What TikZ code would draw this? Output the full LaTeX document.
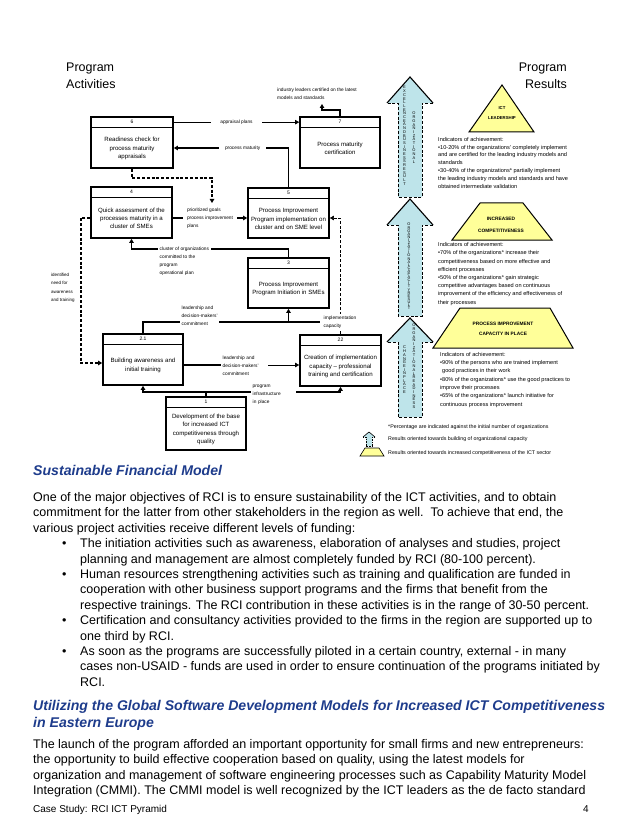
\documentclass[tikz,border=0pt]{standalone}
\usepackage{fontspec}
\setmainfont{Liberation Sans}
\usetikzlibrary{arrows.meta}
\definecolor{abl}{RGB}{190,228,234}
\definecolor{pyl}{RGB}{255,255,153}
\definecolor{hbl}{RGB}{30,60,140}
\makeatletter
\newcommand\vletters[1]{\@tfor\vl@c:=#1\do{\vl@c\\}}
\makeatother
\newcommand\pbox[7]{%
 \node[pbox, minimum width=#4pt, minimum height=#5pt] (#1) at (#2,#3) {};
 \draw[thn] ([yshift=-11.5pt]#1.north west) -- ([yshift=-11.5pt]#1.north east);
 \node[numtxt] (#1n) at ([yshift=-6pt]#1.north) {#6};
 \node[boxtxt] (#1t) at ([yshift=-6pt]#1.center) {#7};}
\newcommand\bigarr[3]{%
 \fill[abl] (410,#1) -- (433,#2) -- (422,#2) -- (422,#3) -- (398,#3) -- (398,#2) -- (387,#2) -- cycle;
 \draw[line width=1.1pt] (387,#2) -- (410,#1) -- (433,#2);
 \draw[line width=0.8pt, dsh] (433,#2) -- (422,#2) -- (422,#3) -- (398,#3) -- (398,#2) -- (387,#2);}
\newcommand\tl[4]{\node[body] (#1) at (#2,#3) {#4};}
\begin{document}
\begin{tikzpicture}[x=1pt,y=-1pt,
 pbox/.style={draw, line width=1.7pt, fill=white, inner sep=0pt},
 numtxt/.style={font=\fontsize{5}{6}\selectfont, inner sep=0pt},
 boxtxt/.style={font=\fontsize{6.1}{8.2}\selectfont, align=center, inner sep=0pt},
 lbl/.style={font=\fontsize{4.8}{8}\selectfont, align=left, inner sep=1.5pt, fill=white},
 thk/.style={line width=1.7pt},
 thn/.style={line width=0.6pt},
 tip/.style={-{Triangle[length=4pt,width=4.5pt]}},
 dsh/.style={dash pattern=on 3pt off 1.8pt},
 vtx/.style={font=\fontsize{4}{3.7}\selectfont, align=center, inner sep=0pt},
 vtxb/.style={font=\fontsize{3.9}{3.1}\selectfont, align=center, inner sep=0pt},
 ptxt/.style={font=\fontsize{4.8}{5}\selectfont\bfseries, inner sep=0pt},
 ind/.style={align=left, inner sep=0pt, anchor=north west},
 leg/.style={font=\fontsize{5.3}{6}\selectfont, inner sep=0pt, anchor=west},
 body/.style={font=\fontsize{12.5}{15}\selectfont, inner sep=0pt, anchor=base west},
 hd/.style={font=\fontsize{14.1}{17}\selectfont\bfseries\itshape, text=hbl, inner sep=0pt, anchor=base west},
 ttl/.style={font=\fontsize{12.5}{16.5}\selectfont, inner sep=0pt}]
\useasboundingbox[fill=white] (0,0) rectangle (638,826);

% titles
\node[ttl, align=left, anchor=north west] (pa) at (66,63) {Program\\Activities};
\node[ttl, align=right, anchor=north east] (pr) at (567,63) {Program\\Results};

% process boxes
\pbox{b6}{132}{142.5}{82}{51}{6}{Readiness check for\\process maturity\\appraisals}
\pbox{b7}{340}{142.5}{80}{51}{7}{Process maturity\\certification}
\pbox{b4}{131.5}{212.5}{81}{51}{4}{Quick assessment of the\\processes maturity in a\\cluster of SMEs}
\pbox{b5}{288.5}{213}{81}{50}{5}{Process Improvement\\Program implementation on\\cluster and on SME level}
\pbox{b3}{288.5}{283}{81}{50}{3}{Process Improvement\\Program Initiation in SMEs}
\pbox{b21}{143}{359.5}{80}{51}{2.1}{Building awareness and\\initial training}
\pbox{b22}{340.5}{360.5}{81}{51}{22}{Creation of implementation\\capacity -- professional\\training and certification}
\pbox{b1}{206}{423.5}{80}{53}{1}{Development of the base\\for increased ICT\\competitiveness through\\quality}

% connectors
\draw[thn, tip] ([yshift=-6pt]b6.north east) -- ([yshift=-6pt]b7.north west)
  node[lbl, pos=0.5, inner xsep=9pt] (l1) {appraisal plans};
\draw[thk, tip] (b5.north) |- ([yshift=-5.5pt]b6.east)
  node[lbl, pos=0.7, inner xsep=6pt] (l2) {process maturity};
\coordinate (c6) at (212,203);
\draw[thk, dsh, tip] (b6.south) |- (212,178) -- (c6);
\draw[thk, tip] ([yshift=-5.5pt]b4.east) -- ([yshift=-5pt]b5.west)
  node[lbl, pos=0.5, inner xsep=4pt] (l4) {prioritized goals\\process improvement\\plans};
\draw[thk, tip] (b3.north) |- ([yshift=-10pt]b4.south) -- (b4.south);
\node[lbl, anchor=north west] (l5) at (158,245.5) {cluster of organizations\\committed to the\\program\\operational plan};
\draw[thk, dsh, tip] ([yshift=-5.5pt]b4.west) -| (81,300) |- ([yshift=-3.5pt]b21.west);
\node[lbl, fill=none, anchor=north west, inner sep=0pt, font=\fontsize{4.5}{8.5}\selectfont] (l6) at (51,273) {identified\\need for\\awareness\\and training};
\coordinate (j1) at (288.5,322);
\coordinate (j1e) at (320,322);
\draw[thk] (b21.north) |- (j1e);
\draw[thk, tip] (j1) -- (b3.south);
\node[lbl, anchor=west] (l7) at (180,316) {leadership and\\decision-makers'\\commitment};
\draw[thn, tip] ([yshift=-5.5pt]b21.east) -- ([yshift=-4.5pt]b22.west);
\draw[thk] ([yshift=-5.5pt]b21.east) -- ++(40,0);
\node[lbl, anchor=west, text width=44pt] (l8) at (221,366) {leadership and\\decision-makers'\\commitment};
\coordinate (j2) at (206,392);
\draw[thk, tip] (b1.north) -- (j2) -| (b21.south);
\draw[thk, tip] (j2) -| (b22.south);
\node[lbl, anchor=west, text width=42pt] (l9) at (251,395) {program\\infrastructure\\in place};
\coordinate (c7) at (322,104);
\draw[thk, tip] (b7.north) -- (340,110) -| (c7);
\node[lbl, fill=none, anchor=north west, inner sep=0pt] (l10) at (277,88) {industry leaders certified on the latest\\models and standards};
\draw[thn, dsh, tip] (b22.north) |- ([yshift=-5pt]b5.east);
\node[lbl, anchor=west] (l11) at (322,322) {implementation\\capacity};

% big arrows
\bigarr{77}{103}{197}
\bigarr{199}{225}{316}
\bigarr{318}{342}{417}
\node[vtx, anchor=north] (a1l) at (404.5,86) {\vletters{EXCELLENCEANDBUSINESSRESULT}};
\node[vtx, anchor=north] (a1r) at (414,112) {\vletters{ORGANIZATIONAL}};
\node[vtxb, anchor=north] (a2) at (409,223) {\vletters{ORGANIZATIONALCAPACITYRESULT}};
\node[vtx, anchor=north] (a3r) at (414,324) {\vletters{ORGANIZATIONALREADINESS}};
\node[vtx, anchor=north] (a3l) at (404.5,346) {\vletters{CHANGEINPLACE}};

% pyramid levels
\filldraw[fill=pyl, line width=1pt] (502,85) -- (534,132) -- (469,132) -- cycle;
\node[ptxt, font=\fontsize{4.3}{5}\selectfont\bfseries] (p1a) at (502,108) {ICT};
\node[ptxt, font=\fontsize{4.3}{5}\selectfont\bfseries] (p1b) at (502,118) {LEADERSHIP};
\filldraw[fill=pyl, line width=1pt] (480,203) -- (523,203) -- (552,240) -- (452,240) -- cycle;
\node[ptxt] (p2a) at (501,219) {INCREASED};
\node[ptxt] (p2b) at (501,231) {COMPETITIVENESS};
\filldraw[fill=pyl, line width=1pt] (460,308) -- (550,308) -- (573,348) -- (433,348) -- cycle;
\node[ptxt] (p3a) at (503,324) {PROCESS IMPROVEMENT};
\node[ptxt] (p3b) at (503,334) {CAPACITY IN PLACE};

% indicators
\node[ind, font=\fontsize{5.6}{7.8}\selectfont] (i1) at (438,137) {Indicators of achievement:\\•10-20\% of the organizations' completely implement\\and are certified for the leading industry models and\\standards\\•30-40\%  of the organizations* partially implement\\the leading industry models and standards and have\\obtained intermediate  validation};
\node[ind, font=\fontsize{5.6}{8.2}\selectfont] (i2) at (438,242.5) {Indicators of achievement:\\•70\% of the organizations* increase their\\competitiveness based on more effective and\\efficient processes\\•50\% of the organizations* gain strategic\\competitive advantages based on continuous\\improvement of the efficiency and effectiveness of\\their processes};
\node[ind, font=\fontsize{5.6}{8.3}\selectfont] (i3) at (440,352) {Indicators of achievement:\\•90\% of the persons who are trained implement\\\hspace*{2pt}good practices in their work\\•80\% of the organizations* use the good practices to\\improve their processes\\•65\% of the organizations* launch initiative for\\continuous process improvement};

% legend
\node[leg] (lg1) at (388,427) {*Percentage are indicated against the initial number of organizations};
\fill[abl] (369,432) -- (375,437) -- (372,437) -- (372,446) -- (366,446) -- (366,437) -- (363,437) -- cycle;
\draw[line width=0.6pt] (363,437) -- (369,432) -- (375,437);
\draw[line width=0.4pt, dash pattern=on 1pt off 0.6pt] (375,437) -- (372,437) -- (372,446) -- (366,446) -- (366,437) -- (363,437);
\node[leg] (lg2) at (388,439) {Results oriented towards building of organizational capacity};
\filldraw[fill=pyl, line width=0.6pt] (365,448) -- (379,448) -- (384,456) -- (360,456) -- cycle;
\node[leg] (lg3) at (388,453) {Results oriented towards increased competitiveness of the ICT sector};

% text section
\node[hd] (h1) at (33,475) {Sustainable Financial Model};
\tl{t0}{33}{501.5}{One of the major objectives of RCI is to ensure sustainability of the ICT activities, and to obtain}
\tl{t1}{33}{516.9}{commitment for the latter from other stakeholders in the region as well.\ \ To achieve that end, the}
\tl{t2}{33}{532.3}{various project activities receive different levels of funding:}
\tl{u3}{62}{547.7}{•}
\tl{t3}{80}{547.7}{The initiation activities such as awareness, elaboration of analyses and studies, project}
\tl{t4}{80}{563.1}{planning and management are almost completely funded by RCI (80-100 percent).}
\tl{u5}{62}{578.5}{•}
\tl{t5}{80}{578.5}{Human resources strengthening activities such as training and qualification are funded in}
\tl{t6}{80}{593.9}{cooperation with other business support programs and the firms that benefit from the}
\tl{t7}{80}{609.3}{respective trainings. The RCI contribution in these activities is in the range of 30-50 percent.}
\tl{u8}{62}{624.7}{•}
\tl{t8}{80}{624.7}{Certification and consultancy activities provided to the firms in the region are supported up to}
\tl{t9}{80}{640.1}{one third by RCI.}
\tl{u10}{62}{655.5}{•}
\tl{t10}{80}{655.5}{As soon as the programs are successfully piloted in a certain country, external - in many}
\tl{t11}{80}{670.9}{cases non-USAID - funds are used in order to ensure continuation of the programs initiated by}
\tl{t12}{80}{686.3}{RCI.}
\node[hd] (h2a) at (33,710) {Utilizing the Global Software Development Models for Increased ICT Competitiveness};
\node[hd] (h2b) at (33,727.5) {in Eastern Europe};
\tl{s0}{33}{748.5}{The launch of the program afforded an important opportunity for small firms and new entrepreneurs:}
\tl{s1}{33}{763.9}{the opportunity to build effective cooperation based on quality, using the latest models for}
\tl{s2}{33}{779.3}{organization and management of software engineering processes such as Capability Maturity Model}
\tl{s3}{33}{794.7}{Integration (CMMI). The CMMI model is well recognized by the ICT leaders as the de facto standard}
\node[font=\fontsize{10}{12}\selectfont, inner sep=0pt, anchor=base west] (ft) at (33,812.5) {Case Study: RCI ICT Pyramid};
\node[font=\fontsize{10}{12}\selectfont, inner sep=0pt, anchor=base west] (pg) at (583,812.5) {4};
\end{tikzpicture}
\end{document}
